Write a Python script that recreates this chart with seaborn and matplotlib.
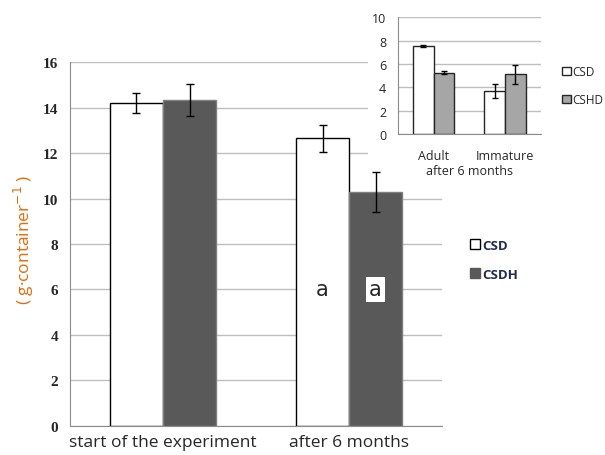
"""Biomass bar chart with an inset for adult / immature split."""

import matplotlib

matplotlib.use("Agg")

import matplotlib.pyplot as plt
import pandas as pd
import seaborn as sns
from matplotlib.patches import Patch, Rectangle

PERIODS = ["start of the experiment", "after 6 months"]
GROUPS = ["CSD", "CSDH"]
CSD_MEAN = [14.2, 12.65]
CSD_ERR = [0.45, 0.6]
CSDH_MEAN = [14.35, 10.3]
CSDH_ERR = [0.7, 0.88]
LETTERS = ["a", "a"]

STAGES = ["Adult", "Immature"]
INSET_GROUPS = ["CSD", "CSHD"]
INSET_CSD_MEAN = [7.55, 3.7]
INSET_CSD_ERR = [0.08, 0.6]
INSET_CSHD_MEAN = [5.25, 5.1]
INSET_CSHD_ERR = [0.15, 0.8]

GRID = "#BEBEBE"
SPINE = "#8C8C8C"
NAVY = "#1F2A55"
ORANGE = "#E46C0A"


def draw_errors(ax, errs_by_hue, capsize):
  for container, errs in zip(ax.containers, errs_by_hue) :
    xs = [bar.get_x() + bar.get_width() / 2 for bar in container]
    ys = [bar.get_height() for bar in container]
    ax.errorbar(xs, ys, yerr = errs, fmt = "none", ecolor = "black",
                elinewidth = 1, capsize = capsize, capthick = 1, zorder = 5)


def style_axes(ax, ymax, step):
  ax.set_ylim(0, ymax)
  ax.set_yticks(range(0, ymax + 1, step))
  ax.set_xlim(-0.5, len(ax.get_xticks()) - 0.5)
  ax.grid(True, axis = "y", color = GRID, linewidth = 1)
  ax.set_axisbelow(True)
  for side in ["top", "right"] :
    ax.spines[side].set_visible(False)
  for side in ["left", "bottom"] :
    ax.spines[side].set_color(SPINE)
  n = len(ax.get_xticks())
  ax.set_xticks([i - 0.5 for i in range(n + 1)], minor = True)
  ax.tick_params(axis = "x", which = "major", length = 0)
  ax.tick_params(axis = "x", which = "minor", length = 5, color = SPINE)
  ax.tick_params(axis = "y", length = 5, color = SPINE)
  ax.set_xlabel("")
  ax.set_ylabel("")


def main() -> None:
  sns.set_style("white")
  plt.rcParams["font.family"] = ["Open Sans", "DejaVu Sans"]

  main_df = pd.DataFrame({
    "period" : PERIODS * 2,
    "group" : [GROUPS[0]] * 2 + [GROUPS[1]] * 2,
    "value" : CSD_MEAN + CSDH_MEAN,
  })
  inset_df = pd.DataFrame({
    "stage" : STAGES * 2,
    "group" : [INSET_GROUPS[0]] * 2 + [INSET_GROUPS[1]] * 2,
    "value" : INSET_CSD_MEAN + INSET_CSHD_MEAN,
  })

  fig = plt.figure(figsize = (6.05, 4.56), dpi = 100)
  ax = fig.add_axes([0.1157, 0.0643, 0.6149, 0.797])
  ax.set_zorder(1)

  sns.barplot(data = main_df, x = "period", y = "value", hue = "group",
              palette = {"CSD" : "white", "CSDH" : "#595959"}, width = 0.57,
              errorbar = None, legend = False, ax = ax, linewidth = 1)
  for bar in ax.containers[0] :
    bar.set_edgecolor("black")
  for bar in ax.containers[1] :
    bar.set_edgecolor("#7F7F7F")
  draw_errors(ax, [CSD_ERR, CSDH_ERR], 3)
  style_axes(ax, 16, 2)
  ax.tick_params(axis = "x", labelsize = 12.5, pad = 6)
  for label in ax.get_yticklabels() :
    label.set_fontfamily("Liberation Serif")
    label.set_fontweight("bold")
    label.set_fontsize(11)
  ax.set_ylabel("( g·container$^{-1}$ )", color = ORANGE, fontsize = 12.5)
  ax.yaxis.set_label_coords(-0.092, 0.514)

  # significance letters inside the second-period bars
  csd_bar = ax.containers[0][1]
  csdh_bar = ax.containers[1][1]
  ax.text(csd_bar.get_x() + csd_bar.get_width() / 2, 6, LETTERS[0], ha = "center",
          va = "center", fontsize = 15, family = "DejaVu Sans", zorder = 6)
  ax.text(csdh_bar.get_x() + csdh_bar.get_width() / 2, 6, LETTERS[1], ha = "center",
          va = "center", fontsize = 15, family = "DejaVu Sans", zorder = 6,
          bbox = dict(facecolor = "white", edgecolor = "none", pad = 2))

  handles = [Patch(facecolor = "white", edgecolor = "black", linewidth = 1),
             Patch(facecolor = "#595959", edgecolor = "#595959")]
  fig.legend(handles, GROUPS, loc = "center left", bbox_to_anchor = (0.757, 0.428),
             frameon = False, handlelength = 0.75, handleheight = 0.75, handletextpad = 0.2,
             labelspacing = 1.2, prop = dict(weight = "bold", size = 9.5),
             labelcolor = NAVY)

  # white chart area behind the inset
  fig.patches.append(Rectangle((0.608, 0.638), 0.392, 0.362, transform = fig.transFigure,
                               facecolor = "white", edgecolor = "none", zorder = 2))

  inset = fig.add_axes([0.6579, 0.704, 0.2358, 0.256])
  inset.set_zorder(3)
  inset.set_facecolor("white")
  sns.barplot(data = inset_df, x = "stage", y = "value", hue = "group",
              palette = {"CSD" : "white", "CSHD" : "#A6A6A6"}, width = 0.58,
              errorbar = None, legend = False, ax = inset, linewidth = 1,
              edgecolor = "#262626")
  draw_errors(inset, [INSET_CSD_ERR, INSET_CSHD_ERR], 2.5)
  style_axes(inset, 10, 2)
  inset.tick_params(axis = "both", labelsize = 9)
  inset.tick_params(axis = "x", pad = 11)
  inset.set_xlabel("after 6 months", fontsize = 9, labelpad = 1)

  inset_handles = [Patch(facecolor = "white", edgecolor = "#262626", linewidth = 1),
                   Patch(facecolor = "#A6A6A6", edgecolor = "#262626", linewidth = 1)]
  fig.legend(inset_handles, INSET_GROUPS, loc = "center left", bbox_to_anchor = (0.912, 0.81),
             frameon = False, handlelength = 0.7, handleheight = 0.7, handletextpad = 0.15,
             labelspacing = 1.3, prop = dict(size = 8.5))

  fig.savefig("out.png", dpi = 100, facecolor = "white")
  plt.close(fig)


if __name__ == "__main__" :
  main()
